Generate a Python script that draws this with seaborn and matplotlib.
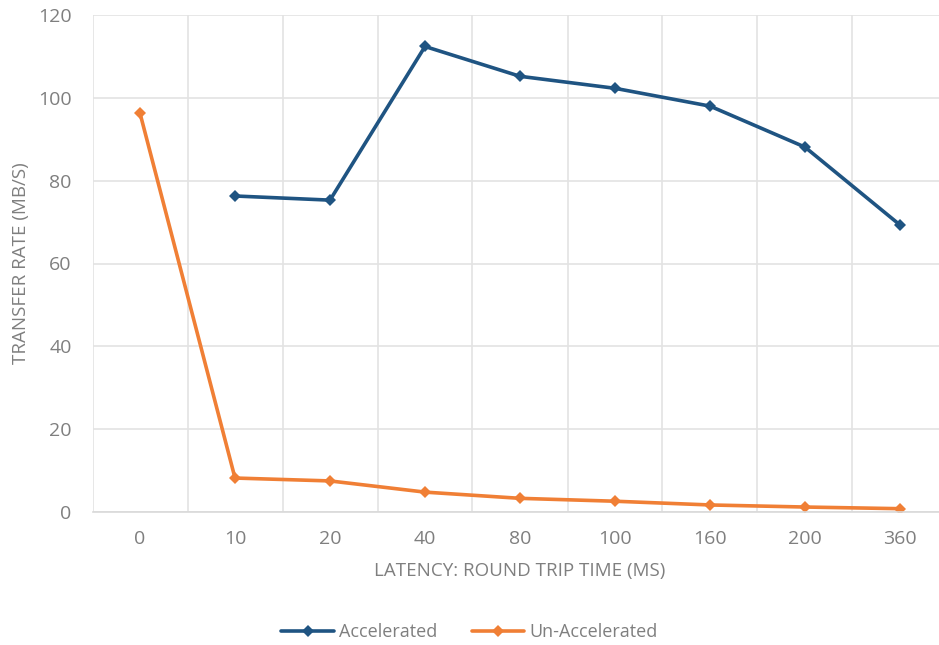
import numpy as np
import pandas as pd
import seaborn as sns
import matplotlib.pyplot as plt

latency = ["0", "10", "20", "40", "80", "100", "160", "200", "360"]
accelerated = [np.nan, 76.3, 75.3, 112.4, 105.2, 102.3, 98.0, 88.1, 69.3]
un_accelerated = [96.3, 8.2, 7.5, 4.8, 3.3, 2.6, 1.7, 1.2, 0.8]

df = pd.concat([
    pd.DataFrame({"pos": range(len(latency)), "rate": accelerated, "series": "Accelerated"}),
    pd.DataFrame({"pos": range(len(latency)), "rate": un_accelerated, "series": "Un-Accelerated"}),
]).dropna()

sns.set_style("white")
plt.rcParams['font.family'] = ['Open Sans', 'DejaVu Sans']
text_col = "#7f7f7f"
grid_col = "#e3e3e3"

fig = plt.figure(figsize=(9.39, 6.45), dpi=100)
ax = fig.add_axes([92.5 / 939, 133 / 645, 855 / 939, 497 / 645])

palette = {"Accelerated": "#1f5482", "Un-Accelerated": "#f07f35"}
sns.lineplot(data=df, x="pos", y="rate", hue="series", palette=palette,
             marker="D", markersize=6.5, markeredgewidth=0, linewidth=2.6,
             ax=ax, legend=True)

ax.set_xlim(-0.5, len(latency) - 0.5)
ax.set_ylim(0, 120)
ax.set_yticks(range(0, 121, 20))
ax.set_xticks(range(len(latency)))
ax.set_xticklabels(latency)
ax.set_xticks(np.arange(-0.5, len(latency), 1), minor=True)
ax.grid(False)
ax.yaxis.grid(True, color=grid_col, linewidth=1.2)
ax.xaxis.grid(True, which="minor", color=grid_col, linewidth=1.2)
ax.set_axisbelow(True)
for s in ["top", "right", "left"]:
    ax.spines[s].set_visible(False)
ax.spines["bottom"].set_color("#d9d9d9")
ax.spines["bottom"].set_linewidth(1.2)
ax.tick_params(axis="both", which="both", length=0, labelsize=14, colors=text_col)
ax.tick_params(axis="x", pad=13)
ax.tick_params(axis="y", pad=15)

ax.set_xlabel("LATENCY: ROUND TRIP TIME (MS)", fontsize=13.5, color=text_col, labelpad=10)
ax.set_ylabel("TRANSFER RATE (MB/S)", fontsize=13.5, color=text_col)
ax.yaxis.set_label_coords(-0.073, 0.5)

handles, labels = ax.get_legend_handles_labels()
ax.get_legend().remove()
fig.legend(handles, labels, loc="center", bbox_to_anchor=(0.5, 1 - 632 / 645),
           ncol=2, frameon=False, fontsize=13, labelcolor=text_col,
           handlelength=2.9, columnspacing=1.9, handletextpad=0.3)

fig.savefig("out.png", dpi=100)
